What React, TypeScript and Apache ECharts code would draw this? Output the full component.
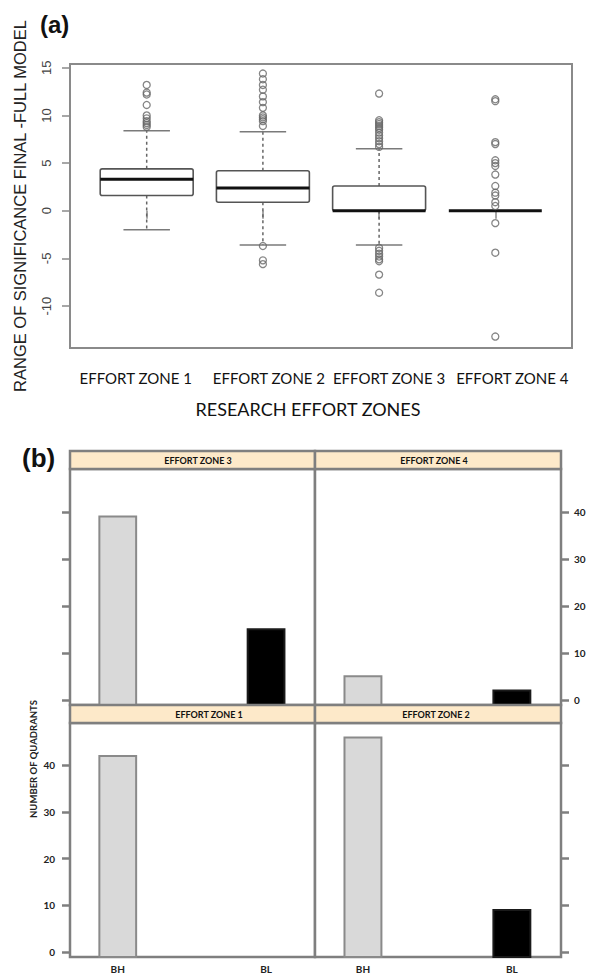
import React, { useEffect, useRef } from 'react';
import * as echarts from 'echarts';

// ---------- Panel (a) data ----------
const zoneNames = ['EFFORT ZONE 1', 'EFFORT ZONE 2', 'EFFORT ZONE 3', 'EFFORT ZONE 4'];
const lowerWhisker = [-2.0, -3.6, -3.6, 0];
const lowerQuartile = [1.6, 0.9, 0, 0];
const medianValue = [3.3, 2.4, 0, 0];
const upperQuartile = [4.4, 4.2, 2.6, 0];
const upperWhisker = [8.4, 8.3, 6.5, 0];
const outliersZone1 = [13.2, 12.4, 12.2, 11.1, 10.0, 9.7, 9.4, 9.2, 9.0, 8.8];
const outliersZone2 = [14.4, 13.8, 13.2, 12.7, 12.0, 11.4, 10.8, 10.0, 9.8, 9.6, 9.4, 8.9, -3.7, -5.2, -5.6];
const outliersZone3 = [12.3, 9.5, 9.3, 9.1, 8.9, 8.7, 8.5, 8.2, 7.9, 7.6, 7.3, 7.0, 6.7, -3.9, -4.2, -4.5, -4.8, -5.1, -5.3, -6.7, -8.6];
const outliersZone4 = [11.7, 11.5, 7.2, 7.0, 5.3, 5.0, 4.7, 3.8, 2.6, 1.9, 1.6, 0.9, 0.5, -1.3, -4.4, -13.2];
const boxTicks = [-10, -5, 0, 5, 10, 15];

// ---------- Panel (b) data ----------
const barCategories = ['BH', 'BL'];
const zone3Counts = [39, 15];
const zone4Counts = [5, 2];
const zone1Counts = [42, null];
const zone2Counts = [46, 9];
const countTicks = [0, 10, 20, 30, 40];

const B_MIN = -1.1;
const B_MAX = 49.1;
const FRAME_B = '#7f7f7f';
const FRAME_A = '#8a8a8a';
const LATO = 'Lato, "Open Sans", sans-serif';
const ARIAL = '"Liberation Sans", Arial, sans-serif';

function buildOption(): any {
  const outlierSets = [outliersZone1, outliersZone2, outliersZone3, outliersZone4];
  const outlierData: number[][] = [];
  outlierSets.forEach((arr, i) => arr.forEach((v) => outlierData.push([i + 1, v])));
  const boxData = zoneNames.map((_, i) => [
    i + 1,
    lowerWhisker[i],
    lowerQuartile[i],
    medianValue[i],
    upperQuartile[i],
    upperWhisker[i],
  ]);

  const labelShift = [-11, 6, 10, 17];
  const rich: any = {};
  labelShift.forEach((s, i) => {
    rich['z' + i] = {
      fontFamily: LATO,
      fontSize: 15,
      color: '#111',
      padding: s < 0 ? [0, -2 * s, 0, 0] : [0, 0, 0, 2 * s],
    };
  });

  const bGrid = (left: number, top: number, width: number, height: number) => ({
    left,
    top,
    width,
    height,
    show: true,
    borderColor: FRAME_B,
    borderWidth: 2.5,
    backgroundColor: '#fff',
  });

  const bX = (gridIndex: number, labels: boolean) => ({
    type: 'value',
    gridIndex,
    min: 0.678,
    max: 2.33,
    splitLine: { show: false },
    axisLine: { show: false },
    axisTick: { show: false },
    axisLabel: labels
      ? {
          show: true,
          customValues: [1, 2],
          formatter: (v: number) => barCategories[Math.round(v) - 1] || '',
          fontFamily: LATO,
          fontWeight: 'bold',
          fontSize: 10,
          color: '#222',
          margin: 7,
        }
      : { show: false },
  });

  const bY = (gridIndex: number, position: string, labels: boolean) => ({
    type: 'value',
    gridIndex,
    position,
    min: B_MIN,
    max: B_MAX,
    splitLine: { show: false },
    axisLine: { show: false },
    axisTick: {
      show: true,
      customValues: countTicks,
      length: 8,
      lineStyle: { color: FRAME_B, width: 2.5 },
    },
    axisLabel: labels
      ? {
          show: true,
          customValues: countTicks,
          fontFamily: LATO,
          fontWeight: 'bold',
          fontSize: 10,
          color: '#222',
          margin: position === 'left' ? 15 : 13,
        }
      : { show: false },
  });

  const barSeries = (idx: number, counts: (number | null)[]) => ({
    type: 'custom',
    xAxisIndex: idx,
    yAxisIndex: idx,
    data: counts.map((c, i) => [i + 1, c]).filter((d) => d[1] !== null),
    renderItem: (params: any, api: any) => {
      const x = api.value(0);
      const v = api.value(1);
      const base = api.coord([x, B_MIN]);
      const top = api.coord([x, v]);
      const w = api.size([0.248, 0])[0];
      const isBH = x === 1;
      return {
        type: 'rect',
        shape: { x: base[0] - w / 2, y: top[1], width: w, height: base[1] - top[1] },
        style: {
          fill: isBH ? '#d9d9d9' : '#000',
          stroke: isBH ? '#8a8a8a' : '#1a1a1a',
          lineWidth: 2,
        },
      };
    },
  });

  const strip = (x: number, y: number, w: number, label: string, cx: number) => [
    {
      type: 'rect',
      shape: { x, y, width: w, height: 18 },
      style: { fill: '#fde9c9', stroke: FRAME_B, lineWidth: 2.5 },
      z: 10,
    },
    {
      type: 'text',
      x: cx,
      y: y + 9.5,
      style: {
        text: label,
        fontFamily: LATO,
        fontWeight: 'bold',
        fontSize: 9,
        fill: '#111',
        align: 'center',
        verticalAlign: 'middle',
      },
      z: 11,
    },
  ];

  return {
    animation: false,
    backgroundColor: '#fff',
    grid: [
      { left: 70, top: 64, width: 502, height: 284, show: true, borderColor: FRAME_A, borderWidth: 2, backgroundColor: '#fff' },
      bGrid(70, 469, 245, 236),
      bGrid(315, 469, 246, 236),
      bGrid(70, 723, 245, 234),
      bGrid(315, 723, 246, 234),
    ],
    xAxis: [
      {
        type: 'value',
        gridIndex: 0,
        min: 0.34,
        max: 4.66,
        splitLine: { show: false },
        axisLine: { show: false },
        axisTick: { show: true, customValues: [1, 2, 3, 4], length: 8, lineStyle: { color: FRAME_A, width: 1.5 } },
        axisLabel: {
          show: true,
          customValues: [1, 2, 3, 4],
          formatter: (v: number) => {
            const i = Math.round(v) - 1;
            return zoneNames[i] ? `{z${i}|${zoneNames[i]}}` : '';
          },
          rich,
          fontFamily: LATO,
          fontSize: 15,
          color: '#111',
          margin: 22,
        },
        name: 'RESEARCH EFFORT ZONES',
        nameLocation: 'middle',
        nameGap: 52,
        nameTextStyle: { fontFamily: LATO, fontSize: 18, color: '#111', padding: [0, 26, 0, 0] },
      },
      bX(1, false),
      bX(2, false),
      bX(3, true),
      bX(4, true),
    ],
    yAxis: [
      {
        type: 'value',
        gridIndex: 0,
        min: -14.4,
        max: 15.4,
        splitLine: { show: false },
        axisLine: { show: false },
        axisTick: { show: true, customValues: boxTicks, length: 8, lineStyle: { color: FRAME_A, width: 1.5 } },
        axisLabel: {
          show: true,
          customValues: boxTicks,
          rotate: 90,
          fontFamily: ARIAL,
          fontSize: 13,
          color: '#444',
          margin: 17,
        },
        name: 'RANGE OF SIGNIFICANCE FINAL -FULL MODEL',
        nameLocation: 'middle',
        nameGap: 42,
        nameTextStyle: { fontFamily: ARIAL, fontSize: 16.5, color: '#222' },
      },
      bY(1, 'left', false),
      bY(2, 'right', true),
      bY(3, 'left', true),
      bY(4, 'right', false),
    ],
    series: [
      {
        type: 'custom',
        xAxisIndex: 0,
        yAxisIndex: 0,
        data: boxData,
        z: 2,
        renderItem: (params: any, api: any) => {
          const x = api.value(0);
          const lw = api.value(1);
          const q1 = api.value(2);
          const md = api.value(3);
          const q3 = api.value(4);
          const uw = api.value(5);
          const c = (xx: number, yy: number) => api.coord([xx, yy]);
          const half = 0.4;
          const capHalf = 0.2;
          const children: any[] = [];
          const dashed = { stroke: '#666', lineWidth: 1.5, lineDash: [3, 3] };
          const solid = { stroke: '#7a7a7a', lineWidth: 1.5 };
          if (uw > q3) {
            const a = c(x, q3), b = c(x, uw);
            children.push({ type: 'line', shape: { x1: a[0], y1: a[1], x2: b[0], y2: b[1] }, style: dashed });
            const l = c(x - capHalf, uw), r = c(x + capHalf, uw);
            children.push({ type: 'line', shape: { x1: l[0], y1: l[1], x2: r[0], y2: r[1] }, style: solid });
          }
          if (lw < q1) {
            const a = c(x, q1), b = c(x, lw);
            children.push({ type: 'line', shape: { x1: a[0], y1: a[1], x2: b[0], y2: b[1] }, style: dashed });
            const l = c(x - capHalf, lw), r = c(x + capHalf, lw);
            children.push({ type: 'line', shape: { x1: l[0], y1: l[1], x2: r[0], y2: r[1] }, style: solid });
          }
          const tl = c(x - half, q3), br = c(x + half, q1);
          if (br[1] - tl[1] > 0.5) {
            children.push({
              type: 'rect',
              shape: { x: tl[0], y: tl[1], width: br[0] - tl[0], height: br[1] - tl[1], r: 2 },
              style: { fill: '#fff', stroke: '#555', lineWidth: 1.6 },
            });
          }
          const ml = c(x - half, md), mr = c(x + half, md);
          children.push({
            type: 'line',
            shape: { x1: ml[0], y1: ml[1], x2: mr[0], y2: mr[1] },
            style: { stroke: '#111', lineWidth: 3 },
          });
          return { type: 'group', children };
        },
      },
      {
        type: 'scatter',
        xAxisIndex: 0,
        yAxisIndex: 0,
        data: outlierData,
        symbol: 'circle',
        symbolSize: 7,
        z: 3,
        itemStyle: { color: 'rgba(0,0,0,0)', borderColor: '#666', borderWidth: 1.3 },
      },
      barSeries(1, zone3Counts),
      barSeries(2, zone4Counts),
      barSeries(3, zone1Counts),
      barSeries(4, zone2Counts),
    ],
    graphic: [
      {
        type: 'text',
        x: 40,
        y: 24,
        style: { text: '(a)', fontFamily: ARIAL, fontWeight: 'bold', fontSize: 24, fill: '#111', align: 'left', verticalAlign: 'middle' },
      },
      {
        type: 'text',
        x: 22,
        y: 458,
        style: { text: '(b)', fontFamily: ARIAL, fontWeight: 'bold', fontSize: 26, fill: '#111', align: 'left', verticalAlign: 'middle' },
      },
      ...strip(70, 451, 245, 'EFFORT ZONE 3', 198),
      ...strip(315, 451, 246, 'EFFORT ZONE 4', 434),
      ...strip(70, 705, 245, 'EFFORT ZONE 1', 209),
      ...strip(315, 705, 246, 'EFFORT ZONE 2', 436),
      {
        type: 'text',
        x: 33,
        y: 759,
        rotation: Math.PI / 2,
        style: {
          text: 'NUMBER OF QUADRANTS',
          fontFamily: LATO,
          fontWeight: 'bold',
          fontSize: 9.5,
          fill: '#222',
          align: 'center',
          verticalAlign: 'middle',
        },
      },
    ],
  };
}

export default function App() {
  const ref = useRef<HTMLDivElement>(null);
  useEffect(() => {
    if (!ref.current) return;
    const chart = echarts.init(ref.current, null, { renderer: 'svg' });
    chart.setOption(buildOption());
    return () => chart.dispose();
  }, []);
  return (
    <div
      ref={ref}
      style={{ position: 'fixed', left: 0, top: 0, width: 590, height: 974, background: '#fff' }}
    />
  );
}
